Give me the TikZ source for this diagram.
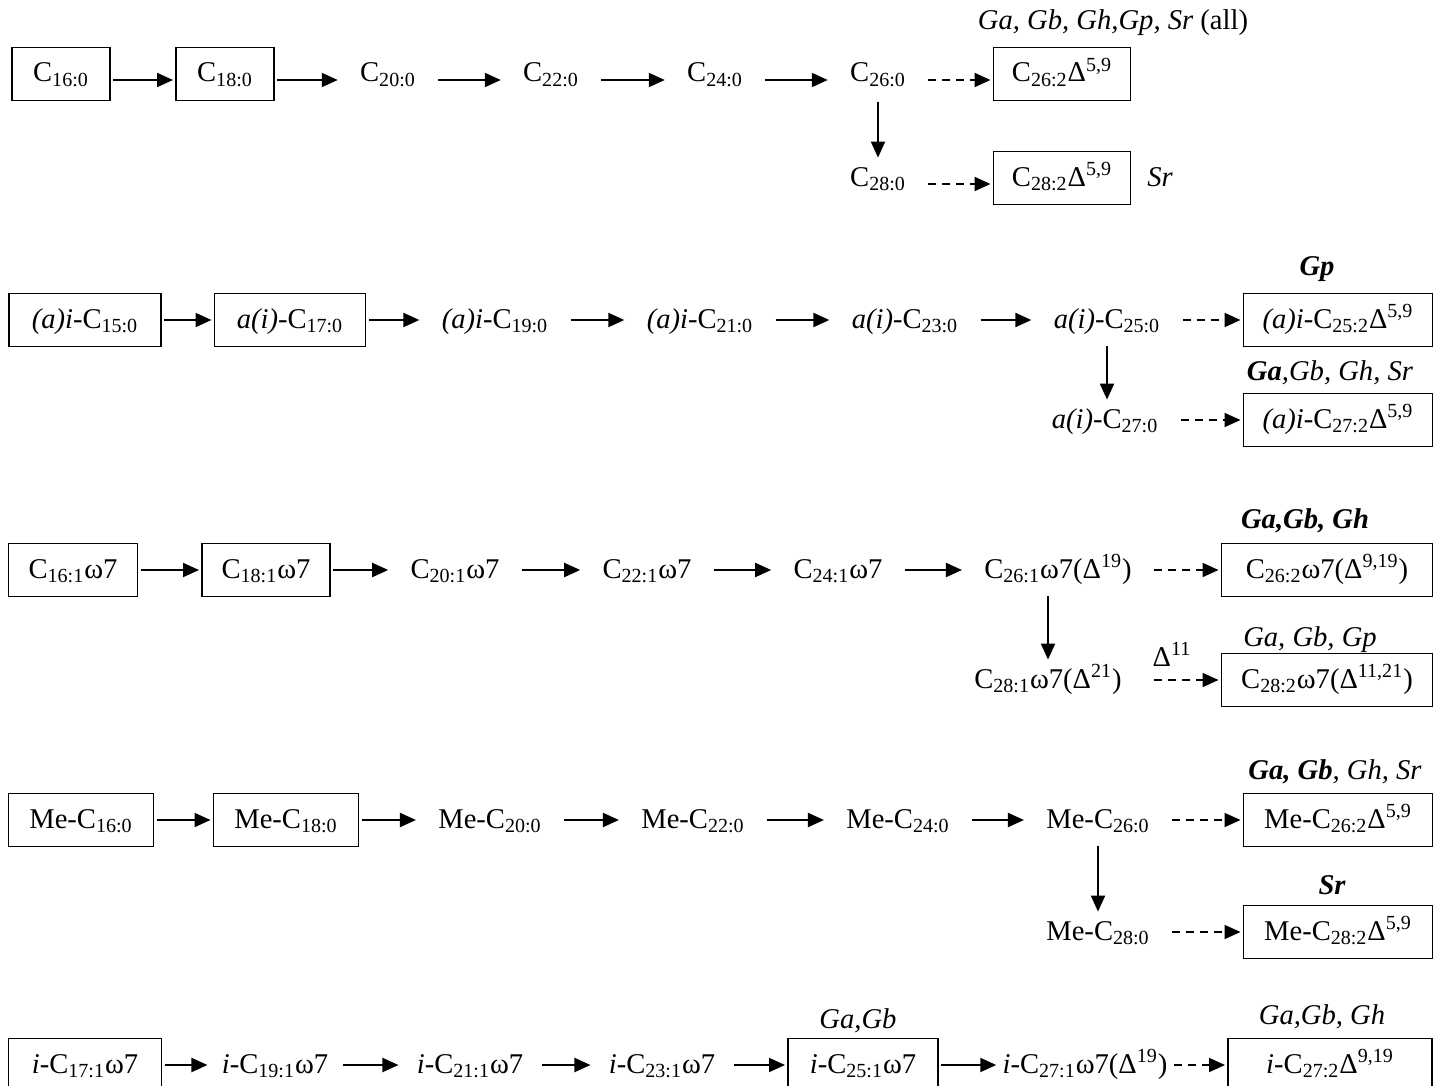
\documentclass[tikz,border=0pt]{standalone}
\usepackage{fontspec}
\setmainfont{Liberation Serif}
\usetikzlibrary{arrows.meta}
\newcommand\sbs[1]{\textsubscript{#1}}
\newcommand\sps[1]{\textsuperscript{#1}}
\newcommand\bi[1]{\textbf{\textit{#1}}}
\begin{document}
\begin{tikzpicture}[x=0.5pt,y=-0.5pt,
  every node/.style={font=\fontsize{14.3}{17}\selectfont, text height=11pt, text depth=3pt, inner sep=0pt},
  fa/.style={draw, line width=0.8pt, minimum height=26.5pt, outer xsep=1.5pt},
  ft/.style={inner xsep=11pt},
  lab/.style={font=\fontsize{14.3}{17}\selectfont\itshape},
  arr/.style={line width=1pt, -{Triangle[length=8pt,width=7pt]}},
  darr/.style={arr, dash pattern=on 4pt off 3pt},
  varr/.style={arr, shorten <=6pt, shorten >=3pt},
]
\useasboundingbox (0,0) rectangle (1440,1086);

% ---------- Row 1 ----------
\node[fa, minimum width=49pt] (b1a) at (61,74) {C\sbs{16:0}};
\node[fa, minimum width=49pt] (b1b) at (225,74) {C\sbs{18:0}};
\node[ft] (t1c) at (388,74) {C\sbs{20:0}};
\node[ft] (t1d) at (551,74) {C\sbs{22:0}};
\node[ft] (t1e) at (715,74) {C\sbs{24:0}};
\node[ft] (t1f) at (878,74) {C\sbs{26:0}};
\node[fa, minimum width=68.5pt] (b1g) at (1062,74) {C\sbs{26:2}Δ\sps{5,9}};
\node[ft] (t1h) at (878,178) {C\sbs{28:0}};
\node[fa, minimum width=68.5pt] (b1i) at (1062,178) {C\sbs{28:2}Δ\sps{5,9}};
\node[lab] (l1g) at (1113,22) {Ga, Gb, Gh,Gp, Sr \upshape(all)};
\node[lab] (l1i) at (1160,178) {Sr};
\draw[arr] ([yshift=-3pt]b1a.east) -- ([yshift=-3pt]b1a.east -| b1b.west);
\draw[arr] ([yshift=-3pt]b1b.east) -- ([yshift=-3pt]b1b.east -| t1c.west);
\draw[arr] ([yshift=-3pt]t1c.east) -- ([yshift=-3pt]t1c.east -| t1d.west);
\draw[arr] ([yshift=-3pt]t1d.east) -- ([yshift=-3pt]t1d.east -| t1e.west);
\draw[arr] ([yshift=-3pt]t1e.east) -- ([yshift=-3pt]t1e.east -| t1f.west);
\draw[darr] ([yshift=-3pt]t1f.east) -- ([yshift=-3pt]t1f.east -| b1g.west);
\draw[darr] ([yshift=-3pt]t1h.east) -- ([yshift=-3pt]t1h.east -| b1i.west);
\draw[varr, shorten <=7pt] (t1f) -- (t1h);

% ---------- Row 2 ----------
\node[fa, minimum width=76pt] (b2a) at (85,320) {\textit{(a)i}-C\sbs{15:0}};
\node[fa, minimum width=75.5pt] (b2b) at (290,320) {\textit{a(i)}-C\sbs{17:0}};
\node[ft] (t2c) at (495,320) {\textit{(a)i}-C\sbs{19:0}};
\node[ft] (t2d) at (700,320) {\textit{(a)i}-C\sbs{21:0}};
\node[ft] (t2e) at (905,320) {\textit{a(i)}-C\sbs{23:0}};
\node[ft] (t2f) at (1107,320) {\textit{a(i)}-C\sbs{25:0}};
\node[fa, minimum width=94.5pt] (b2g) at (1338,320) {\textit{(a)i}-C\sbs{25:2}Δ\sps{5,9}};
\node[ft] (t2h) at (1105,420) {\textit{a(i)}-C\sbs{27:0}};
\node[fa, minimum width=94.5pt] (b2i) at (1338,420) {\textit{(a)i}-C\sbs{27:2}Δ\sps{5,9}};
\node[lab] (l2g) at (1317,267) {\bi{Gp}};
\node[lab] (l2i) at (1330,372) {\bi{Ga},Gb, Gh, Sr};
\draw[arr] (b2a) -- (b2b);
\draw[arr] (b2b) -- (t2c);
\draw[arr] (t2c) -- (t2d);
\draw[arr] (t2d) -- (t2e);
\draw[arr] (t2e) -- (t2f);
\draw[darr] (t2f) -- (b2g);
\draw[darr] (t2h) -- (b2i);
\draw[varr] (t2f.south -| t2f) -- (t2h.north -| t2f);

% ---------- Row 3 ----------
\node[fa, minimum width=64.5pt] (b3a) at (73,570) {C\sbs{16:1}ω7};
\node[fa, minimum width=64pt] (b3b) at (266,570) {C\sbs{18:1}ω7};
\node[ft] (t3c) at (455,570) {C\sbs{20:1}ω7};
\node[ft] (t3d) at (647,570) {C\sbs{22:1}ω7};
\node[ft] (t3e) at (838,570) {C\sbs{24:1}ω7};
\node[ft] (t3f) at (1058,570) {C\sbs{26:1}ω7(Δ\sps{19})};
\node[fa, minimum width=105.5pt] (b3g) at (1327,570) {C\sbs{26:2}ω7(Δ\sps{9,19})};
\node[ft, inner xsep=16pt] (t3h) at (1048,680) {C\sbs{28:1}ω7(Δ\sps{21})};
\node[fa, minimum width=105.5pt] (b3i) at (1327,680) {C\sbs{28:2}ω7(Δ\sps{11,21})};
\node[lab] (l3g) at (1305,520) {\bi{Ga,Gb, Gh}};
\node[lab] (l3i) at (1310,638) {Ga, Gb, Gp};
\node (l3d) at (1172,658) {Δ\sps{11}};
\draw[arr] (b3a) -- (b3b);
\draw[arr] (b3b) -- (t3c);
\draw[arr] (t3c) -- (t3d);
\draw[arr] (t3d) -- (t3e);
\draw[arr] (t3e) -- (t3f);
\draw[darr] (t3f) -- (b3g);
\draw[darr] (t3h) -- (b3i);
\draw[varr] (t3f.south -| t3h) -- (t3h.north);

% ---------- Row 4 ----------
\node[fa, minimum width=72.5pt] (b4a) at (81,820) {Me-C\sbs{16:0}};
\node[fa, minimum width=72.5pt] (b4b) at (286,820) {Me-C\sbs{18:0}};
\node[ft] (t4c) at (490,820) {Me-C\sbs{20:0}};
\node[ft] (t4d) at (693,820) {Me-C\sbs{22:0}};
\node[ft] (t4e) at (898,820) {Me-C\sbs{24:0}};
\node[ft] (t4f) at (1098,820) {Me-C\sbs{26:0}};
\node[fa, minimum width=94.5pt] (b4g) at (1338,820) {Me-C\sbs{26:2}Δ\sps{5,9}};
\node[ft] (t4h) at (1098,932) {Me-C\sbs{28:0}};
\node[fa, minimum width=94.5pt] (b4i) at (1338,932) {Me-C\sbs{28:2}Δ\sps{5,9}};
\node[lab] (l4g) at (1335,771) {\bi{Ga, Gb}, Gh, Sr};
\node[lab] (l4i) at (1332,886) {\bi{Sr}};
\draw[arr] (b4a) -- (b4b);
\draw[arr] (b4b) -- (t4c);
\draw[arr] (t4c) -- (t4d);
\draw[arr] (t4d) -- (t4e);
\draw[arr] (t4e) -- (t4f);
\draw[darr] (t4f) -- (b4g);
\draw[darr] (t4h) -- (b4i);
\draw[varr] (t4f) -- (t4h);

% ---------- Row 5 ----------
\node[fa, minimum width=76.5pt] (b5a) at (85,1065) {\textit{i}-C\sbs{17:1}ω7};
\node[ft, inner xsep=7pt] (t5b) at (275,1065) {\textit{i}-C\sbs{19:1}ω7};
\node[ft, inner xsep=9pt] (t5c) at (470,1065) {\textit{i}-C\sbs{21:1}ω7};
\node[ft, inner xsep=9pt] (t5d) at (662,1065) {\textit{i}-C\sbs{23:1}ω7};
\node[fa, minimum width=75pt] (b5e) at (863,1065) {\textit{i}-C\sbs{25:1}ω7};
\node[ft, inner xsep=3pt] (t5f) at (1085,1065) {\textit{i}-C\sbs{27:1}ω7(Δ\sps{19})};
\node[fa, minimum width=102pt] (b5g) at (1330,1065) {\textit{i}-C\sbs{27:2}Δ\sps{9,19}};
\node[lab] (l5e) at (858,1020) {Ga,Gb};
\node[lab] (l5g) at (1322,1016) {Ga,Gb, Gh};
\draw[arr] (b5a) -- (t5b);
\draw[arr] (t5b) -- (t5c);
\draw[arr] (t5c) -- (t5d);
\draw[arr] (t5d) -- (b5e);
\draw[arr] (b5e) -- (t5f);
\draw[darr] (t5f) -- (b5g);
\end{tikzpicture}
\end{document}
